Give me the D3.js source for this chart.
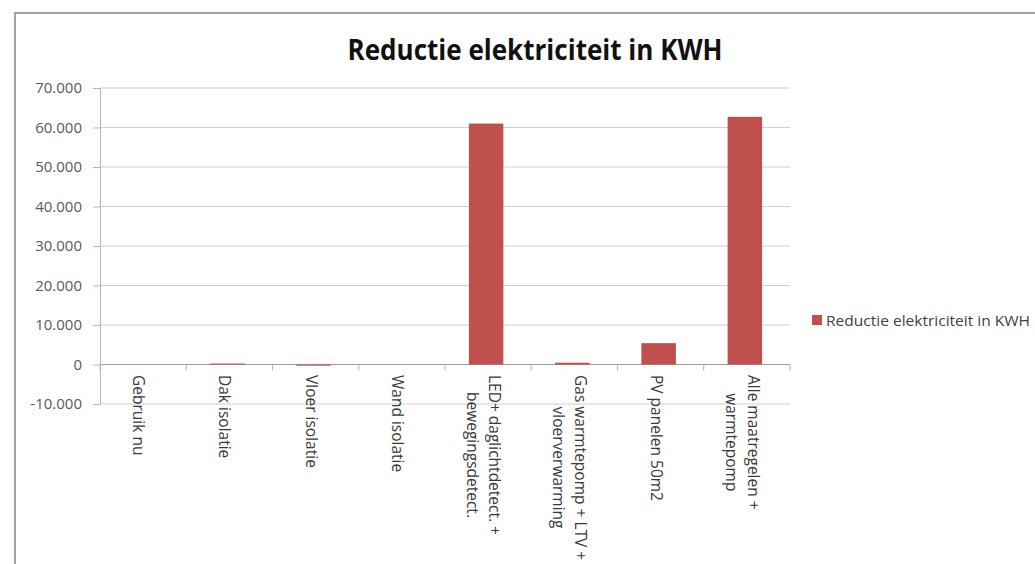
<!DOCTYPE html>
<html>
<head>
<meta charset="utf-8">
<script src="https://cdn.jsdelivr.net/npm/d3@7"></script>
<style>
  html, body { margin: 0; padding: 0; background: #fff; }
  svg { display: block; }
</style>
</head>
<body>
<svg id="chart" width="1035" height="564"></svg>
<script>
const categories = [
  ["Gebruik nu"],
  ["Dak isolatie"],
  ["Vloer isolatie"],
  ["Wand isolatie"],
  ["LED+ daglichtdetect. +", "bewegingsdetect."],
  ["Gas warmtepomp + LTV +", "vloerverwarming"],
  ["PV panelen 50m2"],
  ["Alle maatregelen +", "warmtepomp"]
];
const values = [0, 250, -300, 0, 61000, 450, 5400, 62700];
const yTicks = [-10000, 0, 10000, 20000, 30000, 40000, 50000, 60000, 70000];
const seriesName = "Reductie elektriciteit in KWH";
const titleText = "Reductie elektriciteit in KWH";

(function () {
const svg = d3.select("#chart");
const nl = d3.formatLocale({decimal: ",", thousands: ".", grouping: [3], currency: ["", ""], minus: "-"});
const fmt = nl.format(",");

// frame
svg.append("rect").attr("x", 15).attr("y", 13).attr("width", 1040).attr("height", 570)
  .attr("fill", "#fff").attr("stroke", "#a3a3a3").attr("stroke-width", 2);

const pL = 100, pR = 790, pT = 88, pB = 404;
const x = d3.scaleBand().domain(d3.range(categories.length)).range([pL, pR]).paddingInner(0.6).paddingOuter(0.3);
const xb = d3.scaleBand().domain(d3.range(categories.length)).range([pL, pR]);
const y = d3.scaleLinear().domain([-10000, 70000]).range([pB, pT]);

// gridlines
svg.append("g").selectAll("line").data(yTicks).join("line")
  .attr("x1", pL).attr("x2", pR)
  .attr("y1", d => y(d)).attr("y2", d => y(d))
  .attr("stroke", d => d === 0 ? "#9e9e9e" : "#cfcfcf").attr("stroke-width", 1);

// y axis
const yAxis = d3.axisLeft(y).tickValues(yTicks).tickFormat(d => fmt(d)).tickSize(7).tickPadding(11);
const gy = svg.append("g").attr("transform", `translate(${pL},0)`).call(yAxis);
gy.select(".domain").attr("stroke", "#b5b5b5");
gy.selectAll(".tick line").attr("stroke", "#b5b5b5");
gy.selectAll("text").attr("fill", "#595959").style("font-family", "'Open Sans', sans-serif").style("font-size", "15px");

// category ticks on zero line
svg.append("g").selectAll("line").data(d3.range(categories.length + 1)).join("line")
  .attr("x1", i => pL + i * xb.bandwidth()).attr("x2", i => pL + i * xb.bandwidth())
  .attr("y1", y(0)).attr("y2", y(0) + 6)
  .attr("stroke", "#b5b5b5");

// bars
svg.append("g").selectAll("rect").data(values).join("rect")
  .attr("x", (d, i) => x(i) - 2)
  .attr("width", x.bandwidth())
  .attr("y", d => y(Math.max(0, d)))
  .attr("height", d => Math.abs(y(d) - y(0)))
  .attr("fill", "#c0504d");

// category labels rotated
const lineH = 22;
const lab = svg.append("g").selectAll("g").data(categories).join("g")
  .attr("transform", (d, i) => `translate(${xb(i) + xb.bandwidth() / 2 - 4},375) rotate(90)`);
lab.each(function (lines) {
  const g = d3.select(this);
  const n = lines.length;
  lines.forEach((t, k) => {
    g.append("text")
      .attr("x", 0)
      .attr("y", (k - (n - 1) / 2) * lineH)
      .attr("dominant-baseline", "central")
      .attr("text-anchor", n > 1 ? "middle" : "start")
      .attr("fill", "#3a3a3a")
      .style("font-family", "'Open Sans', sans-serif")
      .style("font-size", "15.5px")
      .text(t);
  });
  if (n > 1) {
    const texts = g.selectAll("text");
    const w0 = texts.nodes()[0].getComputedTextLength();
    texts.attr("x", w0 / 2);
  }
});

// title
svg.append("text").attr("x", 535).attr("y", 60).attr("text-anchor", "middle")
  .attr("fill", "#111")
  .style("font-family", "'Open Sans', sans-serif").style("font-weight", "bold").style("font-size", "28px")
  .attr("textLength", 375).attr("lengthAdjust", "spacingAndGlyphs")
  .text(titleText);

// legend
svg.append("rect").attr("x", 812).attr("y", 315).attr("width", 10).attr("height", 10).attr("fill", "#c0504d");
svg.append("text").attr("x", 826).attr("y", 320).attr("dominant-baseline", "central")
  .attr("fill", "#404040")
  .style("font-family", "'Open Sans', sans-serif").style("font-size", "14px")
  .attr("textLength", 204).attr("lengthAdjust", "spacingAndGlyphs")
  .text(seriesName);
})();
</script>
</body>
</html>
